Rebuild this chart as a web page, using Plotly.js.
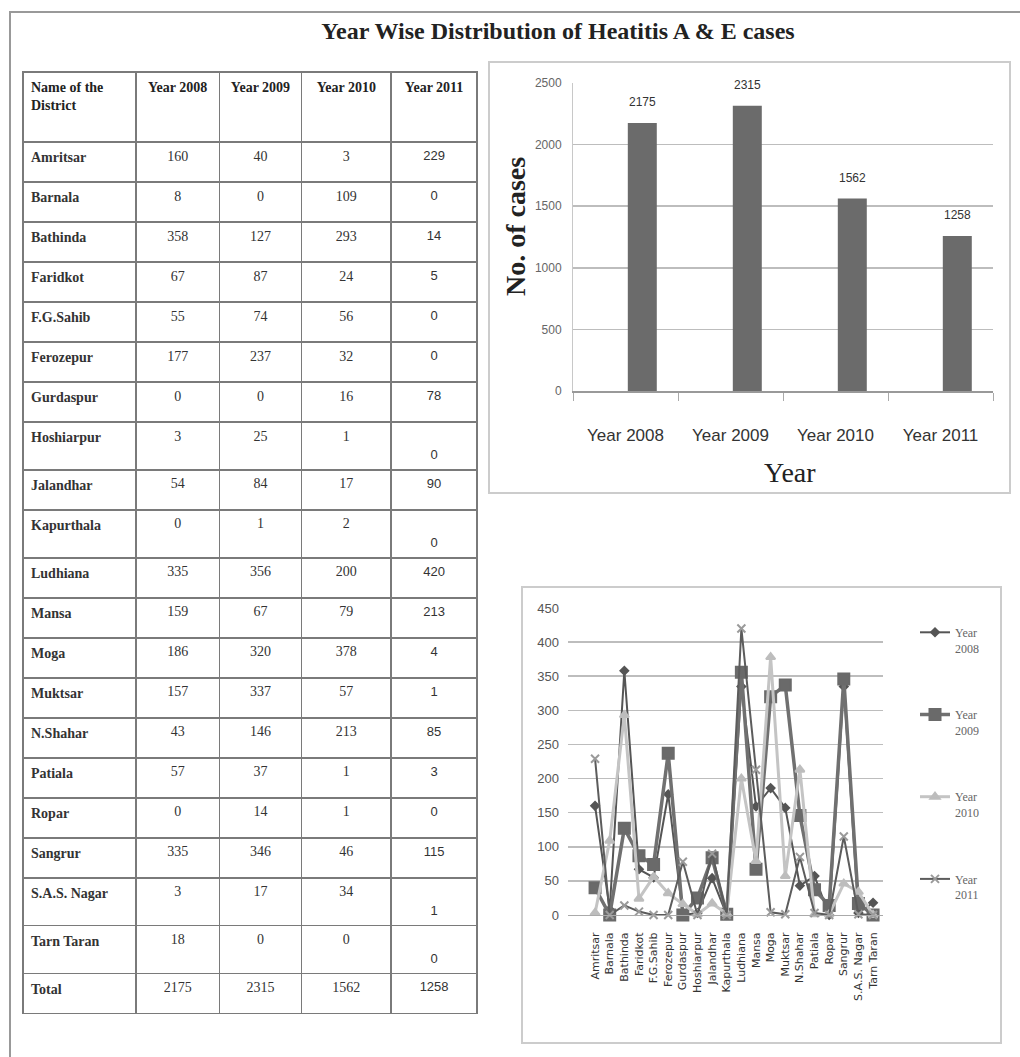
<!DOCTYPE html>
<html><head><meta charset="utf-8">
<script src="https://cdn.plot.ly/plotly-3.0.1.min.js"></script>
<style>html,body{margin:0;padding:0;background:#fff}</style>
</head><body><div id="chart" style="width:1020px;height:1057px"></div>
<script>
// ---- data ----
const districts = ['Amritsar','Barnala','Bathinda','Faridkot','F.G.Sahib','Ferozepur','Gurdaspur','Hoshiarpur','Jalandhar','Kapurthala','Ludhiana','Mansa','Moga','Muktsar','N.Shahar','Patiala','Ropar','Sangrur','S.A.S. Nagar','Tarn Taran'];
const y2008 = [160,8,358,67,55,177,0,3,54,0,335,159,186,157,43,57,0,335,3,18];
const y2009 = [40,0,127,87,74,237,0,25,84,1,356,67,320,337,146,37,14,346,17,0];
const y2010 = [3,109,293,24,56,32,16,1,17,2,200,79,378,57,213,1,1,46,34,0];
const y2011 = [229,0,14,5,0,0,78,0,90,0,420,213,4,1,85,3,0,115,1,0];
const years = ['Year 2008','Year 2009','Year 2010','Year 2011'];
const totals = [2175,2315,1562,1258];
const headerLabels = ['Name of the<br>District','Year 2008','Year 2009','Year 2010','Year 2011'];
const legendNames = ['Year<br>2008','Year<br>2009','Year<br>2010','Year<br>2011'];

// ---- layout helpers ----
const W = 1020, H = 1057;
const px = v => v / W, py = v => 1 - v / H;
const tallRows = new Set(['Hoshiarpur','Kapurthala','S.A.S. Nagar','Tarn Taran']);

// table columns
const colName = districts.map(d => '<b>' + d + '</b>').concat(['<b>Total</b>']);
const col2011 = y2011.map((v, i) => tallRows.has(districts[i]) ? '&nbsp;<br>' + v : String(v)).concat([String(totals[3])]);
const tableTrace = {
  type: 'table',
  domain: {x: [px(23), px(477)], y: [py(1017), py(72)]},
  columnwidth: [113, 84, 82, 90, 86],
  header: {
    values: headerLabels.map(h => '<b>' + h + '</b>'),
    align: ['left','center','center','center','center'],
    height: 70,
    line: {color: '#7a7a7a', width: 1.5},
    fill: {color: '#ffffff'},
    font: {family: 'Liberation Serif', size: 14, color: '#222'}
  },
  cells: {
    values: [colName, y2008.concat([totals[0]]), y2009.concat([totals[1]]), y2010.concat([totals[2]]), col2011],
    align: ['left','center','center','center','center'],
    height: 40,
    line: {color: '#7a7a7a', width: 1.5},
    fill: {color: '#ffffff'},
    font: {family: ['Liberation Serif','Liberation Serif','Liberation Serif','Liberation Serif','Liberation Sans'],
           size: [14,14,14,14,13], color: '#333'}
  }
};

const barTrace = {
  type: 'bar', x: years, y: totals, xaxis: 'x', yaxis: 'y',
  width: 0.276, offset: 0.022,
  marker: {color: '#6b6b6b'}, showlegend: false, hoverinfo: 'skip'
};

const lineStyles = [
  {color: '#555555', width: 2, symbol: 'diamond', size: 6, mcolor: '#555555'},
  {color: '#707070', width: 3.5, symbol: 'square', size: 11, mcolor: '#6a6a6a'},
  {color: '#c4c4c4', width: 3, symbol: 'triangle-up', size: 8, mcolor: '#bdbdbd'},
  {color: '#5c5c5c', width: 2, symbol: 'x-thin-open', size: 8, mcolor: '#9a9a9a'}
];
const series = [y2008, y2009, y2010, y2011];
const lineTraces = series.map((s, i) => ({
  type: 'scatter', mode: 'lines+markers', x: districts, y: s,
  xaxis: 'x2', yaxis: 'y2', name: legendNames[i], legendgroup: 'g' + i,
  line: {color: lineStyles[i].color, width: lineStyles[i].width},
  marker: {symbol: lineStyles[i].symbol, size: lineStyles[i].size, color: lineStyles[i].mcolor,
           line: {color: lineStyles[i].mcolor, width: 2}},
  cliponaxis: false
}));

const barLabels = years.map((yr, i) => ({
  x: yr, y: totals[i], xref: 'x', yref: 'y', text: String(totals[i]),
  showarrow: false, yanchor: 'bottom', yshift: 12, xshift: 17,
  font: {family: 'Liberation Sans Narrow, Liberation Sans', size: 12, color: '#333'}
}));

const layout = {
  width: W, height: H,
  margin: {l: 0, r: 0, t: 0, b: 0},
  paper_bgcolor: '#ffffff', plot_bgcolor: '#ffffff',
  title: {text: '<b>Year Wise Distribution of Heatitis A &amp; E cases</b>', x: px(558), y: py(31),
          xanchor: 'center', yanchor: 'middle', xref: 'paper', yref: 'paper',
          font: {family: 'Liberation Serif', size: 24, color: '#222'}},
  xaxis: {
    domain: [px(573), px(993)], anchor: 'y', type: 'category', range: [-0.5, 3.5],
    ticks: 'outside', tickson: 'boundaries', ticklen: 8, tickcolor: '#aaa',
    showline: true, linecolor: '#999', linewidth: 1.5, showgrid: false,
    ticklabelstandoff: 28,
    tickfont: {family: 'Liberation Sans', size: 17, color: '#333'}
  },
  yaxis: {
    domain: [py(391), py(83)], anchor: 'x', range: [0, 2500], dtick: 500,
    gridcolor: '#bdbdbd', gridwidth: 1.5, showline: true, linecolor: '#c8c8c8', zeroline: false,
    ticklabelstandoff: 8,
    tickfont: {family: 'Liberation Sans Narrow, Liberation Sans', size: 12, color: '#666'}
  },
  xaxis2: {
    domain: [px(568), px(883)], anchor: 'y2', type: 'category', range: [-1.85, 19.68],
    tickangle: -90, showgrid: false, showline: true, linecolor: '#aaa', ticks: '',
    ticklabelstandoff: 12,
    tickfont: {family: 'DejaVu Sans', size: 11, color: '#333'}
  },
  yaxis2: {
    domain: [py(915), py(608)], anchor: 'x2', range: [0, 450], dtick: 50,
    gridcolor: '#bdbdbd', gridwidth: 1.5, zeroline: false, showline: false,
    ticklabelstandoff: 8,
    tickfont: {family: 'Liberation Sans', size: 13, color: '#555'}
  },
  showlegend: true,
  legend: {
    x: px(915), y: py(618), xanchor: 'left', yanchor: 'top', xref: 'paper', yref: 'paper',
    bgcolor: 'rgba(0,0,0,0)', tracegroupgap: 48, valign: 'top', itemwidth: 30,
    font: {family: 'Liberation Serif', size: 12, color: '#666'}
  },
  shapes: [
    {type: 'rect', xref: 'paper', yref: 'paper', x0: px(10), x1: px(1030), y0: py(12), y1: py(1070),
     line: {color: '#999', width: 2}},
    {type: 'rect', xref: 'paper', yref: 'paper', x0: px(489), x1: px(1010), y0: py(62), y1: py(493),
     line: {color: '#cccccc', width: 2}},
    {type: 'rect', xref: 'paper', yref: 'paper', x0: px(522), x1: px(1001), y0: py(587), y1: py(1043),
     line: {color: '#cccccc', width: 2}}
  ],
  annotations: barLabels.concat([
    {text: '<b>No. of cases</b>', xref: 'paper', yref: 'paper', x: px(515), y: py(227),
     textangle: -90, showarrow: false, xanchor: 'center', yanchor: 'middle',
     font: {family: 'Liberation Serif', size: 28, color: '#222'}},
    {text: 'Year', xref: 'paper', yref: 'paper', x: px(790), y: py(473), showarrow: false,
     xanchor: 'center', yanchor: 'middle',
     font: {family: 'Liberation Serif', size: 28, color: '#222'}}
  ])
};

Plotly.newPlot('chart', [tableTrace, barTrace].concat(lineTraces), layout, {displayModeBar: false, staticPlot: true});
</script></body></html>
